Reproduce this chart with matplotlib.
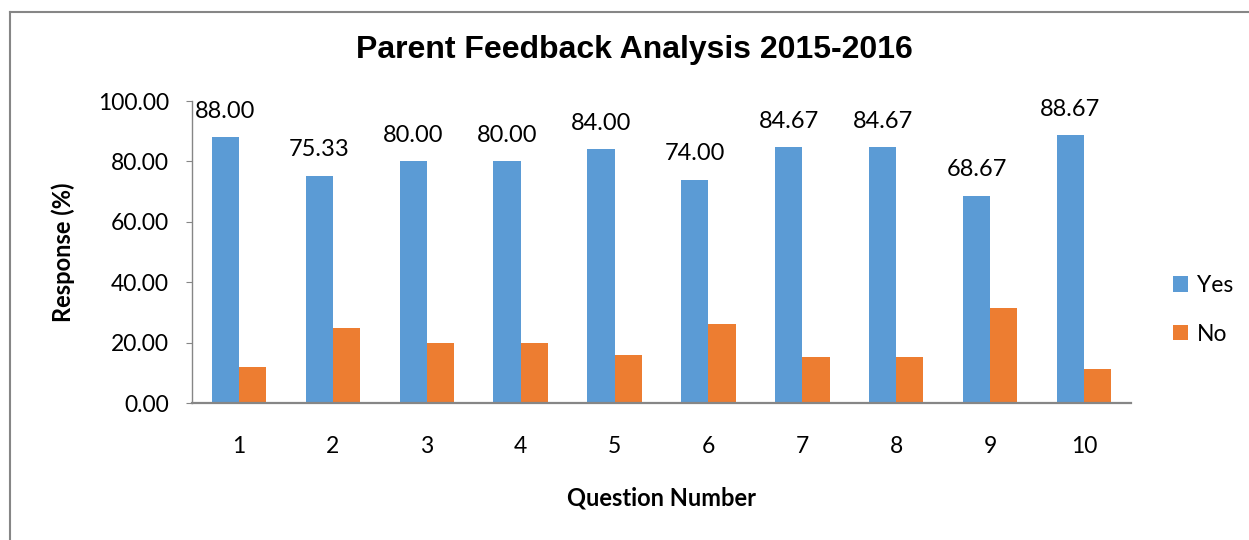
#!/usr/bin/env python3
"""Grouped bar chart of parent feedback responses."""

import matplotlib
matplotlib.use("Agg")
import matplotlib.pyplot as plt
import numpy as np
from matplotlib.lines import Line2D

questions = ["1", "2", "3", "4", "5", "6", "7", "8", "9", "10"]
yes_pct = [88.00, 75.33, 80.00, 80.00, 84.00, 74.00, 84.67, 84.67, 68.67, 88.67]
no_pct = [12.00, 24.67, 20.00, 20.00, 16.00, 26.00, 15.33, 15.33, 31.33, 11.33]
yticks = [0, 20, 40, 60, 80, 100]

BLUE = "#5B9BD5"
ORANGE = "#ED7D31"
GRAY = "#868686"
body_font = ["Lato", "DejaVu Sans"]

fig = plt.figure(figsize=(12.49, 5.40), dpi=100)
ax = fig.add_axes([192 / 1249, 1 - 403 / 540, (1131 - 192) / 1249, (403 - 101) / 540])

x = np.arange(len(questions))
width = 0.29
ax.bar(x - width / 2, yes_pct, width, color=BLUE, label="Yes")
ax.bar(x + width / 2, no_pct, width, color=ORANGE, label="No")

for xi, v in zip(x, yes_pct):
    ax.annotate(f"{v:.2f}", (xi - width / 2, v), xytext=(0, 11),
                textcoords="offset points", ha="center", va="bottom",
                fontsize=17, family=body_font)

ax.set_xlim(-0.5, len(questions) - 0.5)
ax.set_ylim(0, 100)
ax.set_xticks(x)
ax.set_xticklabels(questions, family=body_font, fontsize=16.5)
ax.set_yticks(yticks)
ax.set_yticklabels([f"{t:.2f}" for t in yticks], family=body_font, fontsize=16.5)
ax.tick_params(axis="x", length=0, pad=24)
ax.tick_params(axis="y", length=4.5, color=GRAY, pad=12)

for side in ("top", "right"):
    ax.spines[side].set_visible(False)
for side in ("left", "bottom"):
    ax.spines[side].set_color(GRAY)
ax.spines["bottom"].set_linewidth(1.6)
ax.spines["left"].set_linewidth(1.0)

ax.set_xlabel("Question Number", family=body_font, fontsize=17,
              fontweight="bold", va="center")
ax.set_ylabel("Response (%)", family=body_font, fontsize=17,
              fontweight="bold", va="center")
ax.xaxis.set_label_coords(0.5, (403 - 498) / 302)
ax.yaxis.set_label_coords((63 - 192) / 939, 0.5)

fig.text(634 / 1249, 1 - 50 / 540, "Parent Feedback Analysis 2015-2016",
         ha="center", va="center", fontsize=23, fontweight="bold",
         family=["Liberation Sans", "DejaVu Sans"])

fig.legend(loc="upper left", bbox_to_anchor=(1164 / 1249, 1 - 266 / 540),
           frameon=False, prop={"family": body_font, "size": 16.5},
           handlelength=0.65, handleheight=0.65, handletextpad=0.4,
           labelspacing=1.2, borderaxespad=0)

# outer chart frame (only left and top edges visible in the crop)
fig.add_artist(Line2D([10 / 1249, 10 / 1249], [0, 1 - 12 / 540],
                      transform=fig.transFigure, color=GRAY, lw=1.5))
fig.add_artist(Line2D([10 / 1249, 1], [1 - 12 / 540, 1 - 12 / 540],
                      transform=fig.transFigure, color=GRAY, lw=1.5))

fig.savefig("out.png", dpi=100)
